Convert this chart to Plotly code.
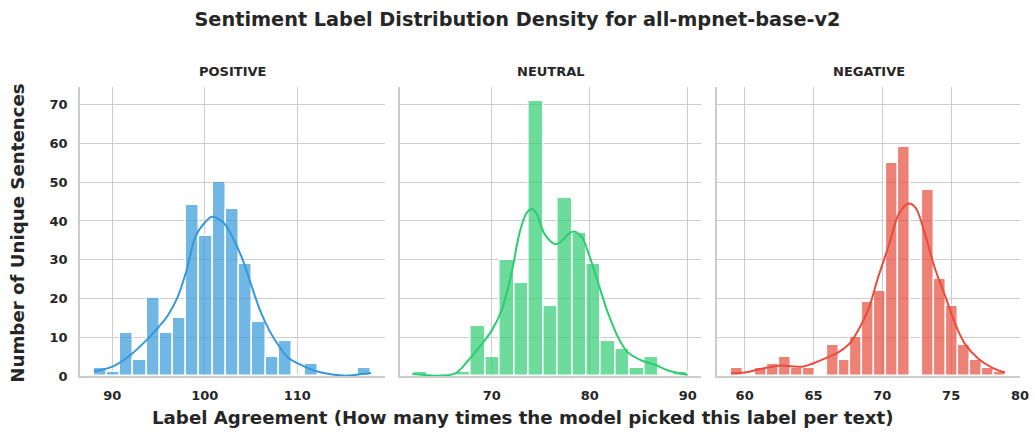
import numpy as np
import plotly.graph_objects as go

# ---------------- data ----------------
panel_names = ["POSITIVE", "NEUTRAL", "NEGATIVE"]

pos_bin_range = (88, 118)
pos_counts = [2, 1, 11, 4, 20, 11, 15, 44, 36, 50, 43, 29, 14, 5, 9, 0, 3, 0, 0, 0, 2]
pos_kde_x = [88.0, 90, 92, 94, 95, 96, 97, 98, 99, 100, 100.8, 102, 103, 104, 105, 106, 107, 108, 109, 110, 112, 114, 115.5, 117, 118]
pos_kde_y = [1.2, 2.4, 5.5, 10, 12.6, 15.6, 20, 27, 36, 39.6, 41.1, 39.6, 35.8, 30.6, 23.7, 16.8, 11.7, 7.8, 4.8, 3.3, 1.3, 0.3, 0.1, 0.5, 0.8]

neu_bin_range = (62, 90)
neu_counts = [1, 0, 0, 1, 13, 5, 30, 24, 71, 18, 46, 37, 29, 9, 7, 2, 5, 0, 1]
neu_kde_x = [61.9, 63.5, 64.9, 66.3, 67.6, 69, 70, 71, 72, 72.9, 73.6, 74.1, 74.6, 75.4, 76.5, 77.1, 77.8, 78.4, 79.2, 79.9, 80.9, 81.9, 82.9, 83.9, 85.3, 86.7, 88, 90]
neu_kde_y = [0.5, 0.2, 0.1, 0.7, 4, 8.3, 11.7, 16.9, 26.3, 37.5, 42.2, 43.1, 41.8, 36.6, 34, 34.7, 36.6, 37.3, 35.8, 31.5, 23.7, 16, 10, 6.1, 4, 2.9, 1.4, 0.3]

neg_bin_range = (59, 79)
neg_counts = [2, 0, 2, 3, 5, 2, 2, 0, 8, 4, 10, 19, 22, 55, 59, 0, 48, 25, 18, 8, 4, 2, 1]
neg_kde_x = [59.0, 60, 61, 62, 62.7, 63.4, 64.2, 65, 65.9, 66.8, 67.6, 68.3, 69, 69.7, 70.5, 71.2, 71.9, 72.4, 73.1, 73.8, 74.6, 75.3, 76, 77, 78, 78.9]
neg_kde_y = [0.7, 0.9, 1.7, 2.4, 2.7, 2.5, 2.4, 3.3, 4.6, 6.1, 8.3, 12.1, 17.3, 25.5, 34, 41.8, 44.5, 43.5, 36.6, 28, 20.3, 13.4, 8.3, 4.4, 2.1, 0.9]

x_tick_vals = [[90, 100, 110], [70, 80, 90], [60, 65, 70, 75, 80]]
y_tick_vals = [0, 10, 20, 30, 40, 50, 60, 70]

title_text = "Sentiment Label Distribution Density for all-mpnet-base-v2"
x_title = "Label Agreement (How many times the model picked this label per text)"
y_title = "Number of Unique Sentences"

# ---------------- styling ----------------
colors = ["#3498db", "#2ecc71", "#e74c3c"]
bar_fill = ["rgba(52,152,219,0.7)", "rgba(46,204,113,0.7)", "rgba(231,76,60,0.7)"]
text_color = "#262626"
grid_color = "#cccccc"
FONT = "DejaVu Sans"

W, H = 1035, 435
ML, MR, MT, MB = 80, 15, 86.5, 59
PW = W - ML - MR
PH = H - MT - MB

def px_x(p):
    return (p - ML) / PW

def px_y(p):
    return (H - MB - p) / PH

domains = [[0.0, px_x(385)], [px_x(399.6), px_x(701.4)], [px_x(717.1), 1.0]]

panels = [
    (pos_bin_range, pos_counts, pos_kde_x, pos_kde_y),
    (neu_bin_range, neu_counts, neu_kde_x, neu_kde_y),
    (neg_bin_range, neg_counts, neg_kde_x, neg_kde_y),
]

fig = go.Figure()
layout_axes = {}
annotations = []
y_max = max(max(c) for _, c, _, _ in panels) * 1.05

for i, (rng, counts, kx, ky) in enumerate(panels):
    n = len(counts)
    edges = np.linspace(rng[0], rng[1], n + 1)
    centers = (edges[:-1] + edges[1:]) / 2
    bw = edges[1] - edges[0]
    xa = "x" if i == 0 else f"x{i+1}"
    ya = "y" if i == 0 else f"y{i+1}"
    fig.add_trace(go.Bar(
        x=centers, y=counts, width=bw,
        marker=dict(color=bar_fill[i], line=dict(color="white", width=1.5)),
        xaxis=xa, yaxis=ya, showlegend=False,
    ))
    fig.add_trace(go.Scatter(
        x=kx, y=ky, mode="lines",
        line=dict(color=colors[i], width=2, shape="spline", smoothing=1.0),
        xaxis=xa, yaxis=ya, showlegend=False,
    ))
    pad = (rng[1] - rng[0]) * 0.05
    key = "" if i == 0 else str(i + 1)
    layout_axes["xaxis" + key] = dict(
        domain=domains[i], anchor=ya, range=[rng[0] - pad, rng[1] + pad],
        tickmode="array", tickvals=x_tick_vals[i], automargin=False,
        showgrid=True, gridcolor=grid_color, gridwidth=1,
        showline=True, linecolor=grid_color, linewidth=1.5,
        zeroline=False, ticks="outside", ticklen=7, tickcolor="rgba(0,0,0,0)",
        tickfont=dict(family=FONT, size=13, color=text_color, weight="bold"),
    )
    layout_axes["yaxis" + key] = dict(
        domain=[0, 1], anchor=xa, range=[0, y_max], automargin=False,
        tickmode="array", tickvals=y_tick_vals,
        showticklabels=(i == 0),
        showgrid=True, gridcolor=grid_color, gridwidth=1,
        showline=True, linecolor=grid_color, linewidth=1.5,
        zeroline=False, ticks="outside" if i == 0 else "", ticklen=8,
        tickcolor="rgba(0,0,0,0)",
        tickfont=dict(family=FONT, size=13, color=text_color, weight="bold"),
    )
    annotations.append(dict(
        text=panel_names[i], xref="paper", yref="paper",
        x=(domains[i][0] + domains[i][1]) / 2, y=px_y(71),
        xanchor="center", yanchor="middle", showarrow=False,
        font=dict(family=FONT, size=13, color=text_color, weight="bold"),
    ))

annotations.append(dict(
    text=x_title, xref="paper", yref="paper",
    x=px_x(522.5), y=px_y(418), xanchor="center", yanchor="middle", showarrow=False,
    font=dict(family=FONT, size=18.2, color=text_color, weight="bold"),
))
annotations.append(dict(
    text=y_title, xref="paper", yref="paper", textangle=-90,
    x=px_x(18), y=px_y(233.5), xanchor="center", yanchor="middle", showarrow=False,
    font=dict(family=FONT, size=18.2, color=text_color, weight="bold"),
))

fig.update_layout(
    width=W, height=H,
    margin=dict(l=ML, r=MR, t=MT, b=MB, autoexpand=False),
    paper_bgcolor="white", plot_bgcolor="white",
    barmode="overlay", bargap=0,
    title=dict(text=title_text, x=0.5, xanchor="center", y=1 - 19 / H, yanchor="middle",
               font=dict(family=FONT, size=19.3, color=text_color, weight="bold")),
    annotations=annotations,
    **layout_axes,
)

fig.write_html("out.html")
